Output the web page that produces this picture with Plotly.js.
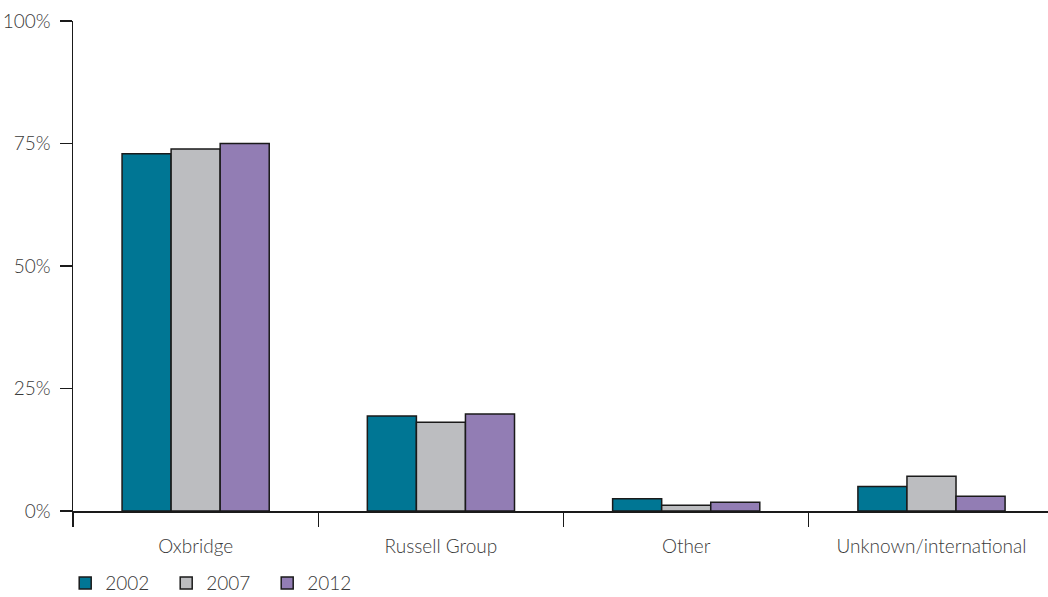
<!DOCTYPE html>
<html>
<head>
<meta charset="utf-8">
<script src="https://cdn.plot.ly/plotly-3.0.1.min.js"></script>
<style>html,body{margin:0;padding:0;background:#fff;}#chart{width:1048px;height:597px;}</style>
</head>
<body>
<div id="chart"></div>
<script>
const categories = ["Oxbridge", "Russell Group", "Other", "Unknown/international"];
const years = ["2002", "2007", "2012"];
const values2002 = [72.9, 19.4, 2.5, 5.0];
const values2007 = [73.9, 18.1, 1.15, 7.1];
const values2012 = [75.0, 19.8, 1.8, 3.0];
const yTicks = [0, 25, 50, 75, 100];
const yTickLabels = ["0%", "25%", "50%", "75%", "100%"];

const colors = ["#007694", "#BCBDC0", "#927DB4"];
const series = [values2002, values2007, values2012];
const font = {family: "Lato, 'Open Sans', sans-serif", size: 19, color: "#3a3a3a", weight: 300};

const traces = series.map((vals, i) => ({
  type: "bar",
  name: years[i],
  x: categories,
  y: vals,
  marker: {color: colors[i], line: {color: "#1a1a1a", width: 1.5}},
  hoverinfo: "x+y+name"
}));

const layout = {
  width: 1048, height: 597,
  margin: {l: 73, r: 0, t: 21, b: 86, autoexpand: false},
  paper_bgcolor: "#ffffff", plot_bgcolor: "#ffffff",
  font: font,
  barmode: "group",
  bargap: 0.4,
  bargroupgap: 0,
  showlegend: true,
  legend: {orientation: "h", x: -0.008, xanchor: "left", y: -0.147, yanchor: "middle",
           font: font, itemwidth: 30, entrywidth: 56, entrywidthmode: "pixels",
           traceorder: "normal"},
  xaxis: {
    type: "category", range: [-0.5, 3.475],
    showline: true, linecolor: "#1a1a1a", linewidth: 1.5,
    ticks: "outside", ticklen: 14, tickcolor: "#1a1a1a", tickwidth: 1.2,
    tickson: "boundaries", showgrid: false, zeroline: false,
    tickfont: font, ticklabelstandoff: 18
  },
  yaxis: {
    range: [0, 100], tickvals: yTicks, ticktext: yTickLabels,
    showline: true, linecolor: "#1a1a1a", linewidth: 1.5,
    ticks: "outside", ticklen: 12, tickcolor: "#1a1a1a", tickwidth: 1.2,
    showgrid: false, zeroline: false, tickfont: font, ticklabelstandoff: 5
  }
};

Plotly.newPlot("chart", traces, layout, {displayModeBar: false, staticPlot: true});
</script>
</body>
</html>
